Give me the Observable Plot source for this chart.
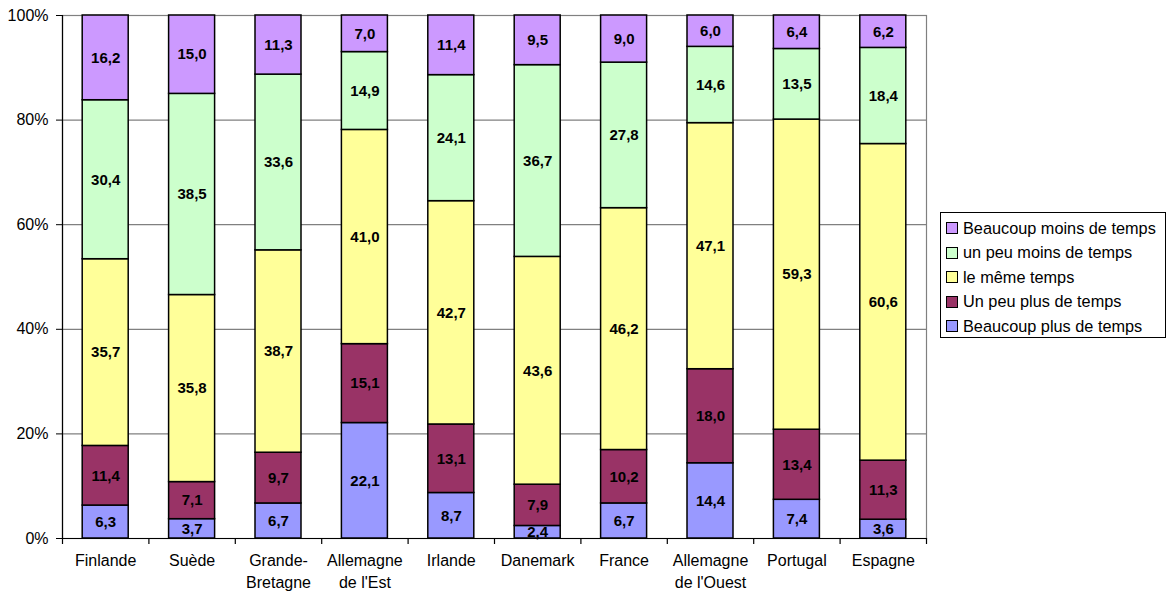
<!DOCTYPE html>
<html>
<head>
<meta charset="utf-8">
<script src="https://cdn.jsdelivr.net/npm/d3@7"></script>
<script src="https://cdn.jsdelivr.net/npm/@observablehq/plot@0.6"></script>
<style>
  html, body { margin: 0; padding: 0; background: #fff; }
  #wrap { position: relative; width: 1168px; height: 594px; font-family: "Liberation Sans", Arial, sans-serif; }
  #legend { position: absolute; left: 940px; top: 212px; width: 224px; height: 124px; border: 1px solid #000; box-sizing: content-box; background: #fff; }
  .item { position: absolute; left: 5px; height: 20px; display: flex; align-items: center; font-size: 16.3px; color: #000; white-space: nowrap; }
  .sw { width: 10px; height: 10px; border: 1px solid #000; margin-right: 5px; flex: none; }
</style>
</head>
<body>
<div id="wrap"><div id="chart"></div><div id="legend"></div></div>
<script>
const countries = ["Finlande", "Suède", "Grande-\nBretagne", "Allemagne\nde l'Est", "Irlande", "Danemark", "France", "Allemagne\nde l'Ouest", "Portugal", "Espagne"];
const seriesNames = ["Beaucoup plus de temps", "Un peu plus de temps", "le même temps", "un peu moins de temps", "Beaucoup moins de temps"];
const seriesColors = ["#9999FF", "#993366", "#FFFF99", "#CCFFCC", "#CC99FF"];
const beaucoupPlus = [6.3, 3.7, 6.7, 22.1, 8.7, 2.4, 6.7, 14.4, 7.4, 3.6];
const unPeuPlus    = [11.4, 7.1, 9.7, 15.1, 13.1, 7.9, 10.2, 18.0, 13.4, 11.3];
const memeTemps    = [35.7, 35.8, 38.7, 41.0, 42.7, 43.6, 46.2, 47.1, 59.3, 60.6];
const unPeuMoins   = [30.4, 38.5, 33.6, 14.9, 24.1, 36.7, 27.8, 14.6, 13.5, 18.4];
const beaucoupMoins= [16.2, 15.0, 11.3, 7.0, 11.4, 9.5, 9.0, 6.0, 6.4, 6.2];
const yTicks = [0, 0.2, 0.4, 0.6, 0.8, 1.0];
const legendOrder = ["Beaucoup moins de temps", "un peu moins de temps", "le même temps", "Un peu plus de temps", "Beaucoup plus de temps"];

const seriesValues = [beaucoupPlus, unPeuPlus, memeTemps, unPeuMoins, beaucoupMoins];
const data = [];
countries.forEach((c, i) => {
  seriesNames.forEach((s, j) => data.push({country: c, series: s, value: seriesValues[j][i]}));
});

const W = 1168, H = 594, mL = 62, mR = 242, mT = 15, mB = 56;
const step = (W - mL - mR) / countries.length;
const fmt = d => d.toFixed(1).replace(".", ",");
const stackOpts = {x: "country", y: "value", z: "series", order: seriesNames, offset: "normalize"};

const chart = Plot.plot({
  width: W, height: H,
  marginLeft: mL, marginRight: mR, marginTop: mT, marginBottom: mB,
  style: {fontFamily: "'Liberation Sans', Arial, sans-serif", fontSize: "16px", color: "#000", background: "#fff"},
  x: {domain: countries, paddingInner: 0.4676, paddingOuter: 0.2338, round: false, label: null},
  y: {domain: [0, 1], label: null},
  color: {domain: seriesNames, range: seriesColors},
  marks: [
    Plot.gridY(yTicks, {stroke: "#808080", strokeOpacity: 1, strokeWidth: 1.2}),
    Plot.frame({stroke: "#808080", strokeWidth: 1.2}),
    Plot.barY(data, Plot.stackY({...stackOpts, fill: "series", stroke: "#000", strokeWidth: 1.5})),
    Plot.text(data, Plot.stackY({...stackOpts, text: d => fmt(d.value), fill: "#000", fontWeight: "bold", fontSize: 15})),
    Plot.ruleY([0], {stroke: "#000", strokeWidth: 1.2}),
    Plot.ruleX([countries[0]], {stroke: "#000", strokeWidth: 1.2, dx: -step / 2}),
    Plot.ruleX(countries, {y1: 0, y2: 0, insetBottom: -6, dx: -step / 2, stroke: "#000", strokeWidth: 1.2}),
    Plot.ruleX([countries[countries.length - 1]], {y1: 0, y2: 0, insetBottom: -6, dx: step / 2, stroke: "#000", strokeWidth: 1.2}),
    Plot.axisY(yTicks, {tickFormat: d3.format(".0%"), tickSize: 6, tickPadding: 8, fontSize: 16, label: null, stroke: "#000"}),
    Plot.axisX({tickSize: 0, tickPadding: 12, fontSize: 16, lineHeight: 1.36, label: null})
  ]
});
document.getElementById("chart").appendChild(chart);

const legend = document.getElementById("legend");
legendOrder.forEach((name, k) => {
  const item = document.createElement("div");
  item.className = "item";
  item.style.top = (5 + k * 24.5) + "px";
  const sw = document.createElement("span");
  sw.className = "sw";
  sw.style.background = seriesColors[seriesNames.indexOf(name)];
  const t = document.createElement("span");
  t.textContent = name;
  item.appendChild(sw); item.appendChild(t);
  legend.appendChild(item);
});
</script>
</body>
</html>
